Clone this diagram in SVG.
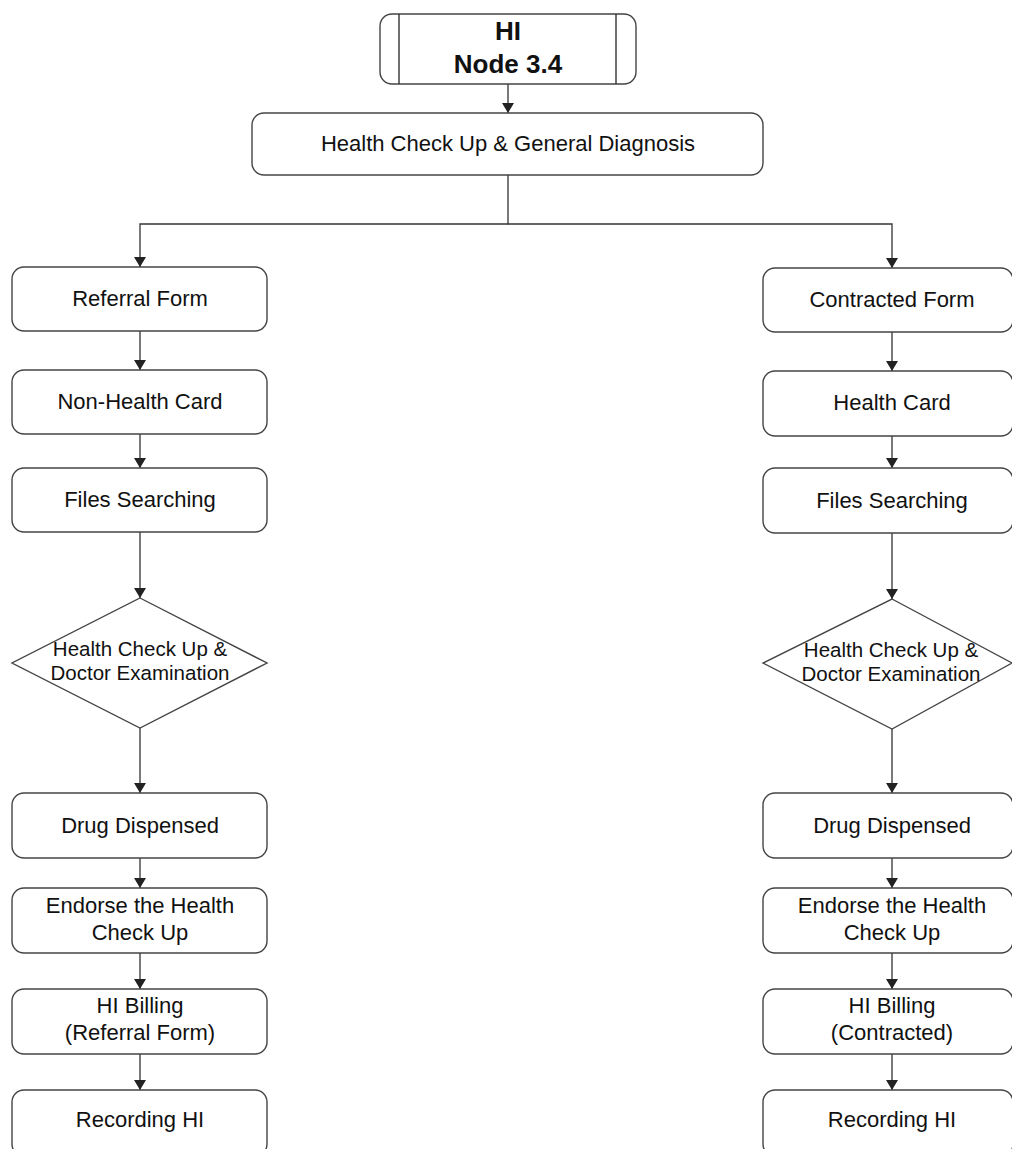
<svg xmlns="http://www.w3.org/2000/svg" width="1012" height="1149" viewBox="0 0 1012 1149">
  <defs>
    <marker id="arrow" viewBox="0 0 10 12" refX="10" refY="6" markerWidth="10" markerHeight="12" markerUnits="userSpaceOnUse" orient="auto">
      <path d="M0,0 L10,6 L0,12 Z" fill="#222"/>
    </marker>
    <style>
      .box { fill: #fff; stroke: #444; stroke-width: 1.4; }
      .sub { fill: none; stroke: #333; stroke-width: 1.4; }
      .link { fill: none; stroke: #333; stroke-width: 1.3; }
      .lbl { font-family: "Liberation Sans", Arial, sans-serif; font-size: 22px; fill: #111; text-anchor: middle; }
      .dlbl { font-family: "Liberation Sans", Arial, sans-serif; font-size: 20.5px; fill: #111; text-anchor: middle; }
      .title { font-family: "Liberation Sans", Arial, sans-serif; font-size: 26px; font-weight: bold; fill: #111; text-anchor: middle; }
    </style>
  </defs>
  <rect width="1012" height="1149" fill="#fff"/>

  <!-- connectors -->
  <g id="connectors">
    <path class="link" d="M508,84 V113" marker-end="url(#arrow)"/>
    <path class="link" d="M508,175 V224 H140 V267" marker-end="url(#arrow)"/>
    <path class="link" d="M508,224 H892 V268" marker-end="url(#arrow)"/>
    <!-- left branch -->
    <path class="link" d="M140,331 V370" marker-end="url(#arrow)"/>
    <path class="link" d="M140,434 V468" marker-end="url(#arrow)"/>
    <path class="link" d="M140,532 V598" marker-end="url(#arrow)"/>
    <path class="link" d="M140,728 V793" marker-end="url(#arrow)"/>
    <path class="link" d="M140,858 V888" marker-end="url(#arrow)"/>
    <path class="link" d="M140,953 V989" marker-end="url(#arrow)"/>
    <path class="link" d="M140,1054 V1090" marker-end="url(#arrow)"/>
    <!-- right branch -->
    <path class="link" d="M892,332 V371" marker-end="url(#arrow)"/>
    <path class="link" d="M892,436 V468" marker-end="url(#arrow)"/>
    <path class="link" d="M892,533 V599" marker-end="url(#arrow)"/>
    <path class="link" d="M892,729 V793" marker-end="url(#arrow)"/>
    <path class="link" d="M892,858 V888" marker-end="url(#arrow)"/>
    <path class="link" d="M892,953 V989" marker-end="url(#arrow)"/>
    <path class="link" d="M892,1054 V1090" marker-end="url(#arrow)"/>
  </g>

  <!-- top: predefined process -->
  <g id="node-hi">
    <rect class="box" x="380" y="14" width="256" height="70" rx="12"/>
    <line class="sub" x1="399" y1="14" x2="399" y2="84"/>
    <line class="sub" x1="616" y1="14" x2="616" y2="84"/>
    <text class="title" x="508" y="40">HI</text>
    <text class="title" x="508" y="73">Node 3.4</text>
  </g>

  <g id="node-general">
    <rect class="box" x="252" y="113" width="511" height="62" rx="12"/>
    <text class="lbl" x="508" y="151">Health Check Up &amp; General Diagnosis</text>
  </g>

  <!-- left branch -->
  <g id="node-referral">
    <rect class="box" x="12" y="267" width="255" height="64" rx="12"/>
    <text class="lbl" x="140" y="306">Referral Form</text>
  </g>
  <g id="node-nonhealthcard">
    <rect class="box" x="12" y="370" width="255" height="64" rx="12"/>
    <text class="lbl" x="140" y="409">Non-Health Card</text>
  </g>
  <g id="node-files-left">
    <rect class="box" x="12" y="468" width="255" height="64" rx="12"/>
    <text class="lbl" x="140" y="507">Files Searching</text>
  </g>
  <g id="node-exam-left">
    <polygon class="box" points="140,598 267,663 140,728 12,663"/>
    <text class="dlbl" x="140" y="656">Health Check Up &amp;</text>
    <text class="dlbl" x="140" y="680">Doctor Examination</text>
  </g>
  <g id="node-drug-left">
    <rect class="box" x="12" y="793" width="255" height="65" rx="12"/>
    <text class="lbl" x="140" y="833">Drug Dispensed</text>
  </g>
  <g id="node-endorse-left">
    <rect class="box" x="12" y="888" width="255" height="65" rx="12"/>
    <text class="lbl" x="140" y="913">Endorse the Health</text>
    <text class="lbl" x="140" y="940">Check Up</text>
  </g>
  <g id="node-billing-left">
    <rect class="box" x="12" y="989" width="255" height="65" rx="12"/>
    <text class="lbl" x="140" y="1013">HI Billing</text>
    <text class="lbl" x="140" y="1040">(Referral Form)</text>
  </g>
  <g id="node-recording-left">
    <rect class="box" x="12" y="1090" width="255" height="66" rx="12"/>
    <text class="lbl" x="140" y="1127">Recording HI</text>
  </g>

  <!-- right branch -->
  <g id="node-contracted">
    <rect class="box" x="763" y="268" width="250" height="64" rx="12"/>
    <text class="lbl" x="892" y="307">Contracted Form</text>
  </g>
  <g id="node-healthcard">
    <rect class="box" x="763" y="371" width="250" height="65" rx="12"/>
    <text class="lbl" x="892" y="410">Health Card</text>
  </g>
  <g id="node-files-right">
    <rect class="box" x="763" y="468" width="250" height="65" rx="12"/>
    <text class="lbl" x="892" y="508">Files Searching</text>
  </g>
  <g id="node-exam-right">
    <polygon class="box" points="892,599 1012,663 892,729 763,663"/>
    <text class="dlbl" x="891" y="657">Health Check Up &amp;</text>
    <text class="dlbl" x="891" y="681">Doctor Examination</text>
  </g>
  <g id="node-drug-right">
    <rect class="box" x="763" y="793" width="250" height="65" rx="12"/>
    <text class="lbl" x="892" y="833">Drug Dispensed</text>
  </g>
  <g id="node-endorse-right">
    <rect class="box" x="763" y="888" width="250" height="65" rx="12"/>
    <text class="lbl" x="892" y="913">Endorse the Health</text>
    <text class="lbl" x="892" y="940">Check Up</text>
  </g>
  <g id="node-billing-right">
    <rect class="box" x="763" y="989" width="250" height="65" rx="12"/>
    <text class="lbl" x="892" y="1013">HI Billing</text>
    <text class="lbl" x="892" y="1040">(Contracted)</text>
  </g>
  <g id="node-recording-right">
    <rect class="box" x="763" y="1090" width="250" height="66" rx="12"/>
    <text class="lbl" x="892" y="1127">Recording HI</text>
  </g>
</svg>
